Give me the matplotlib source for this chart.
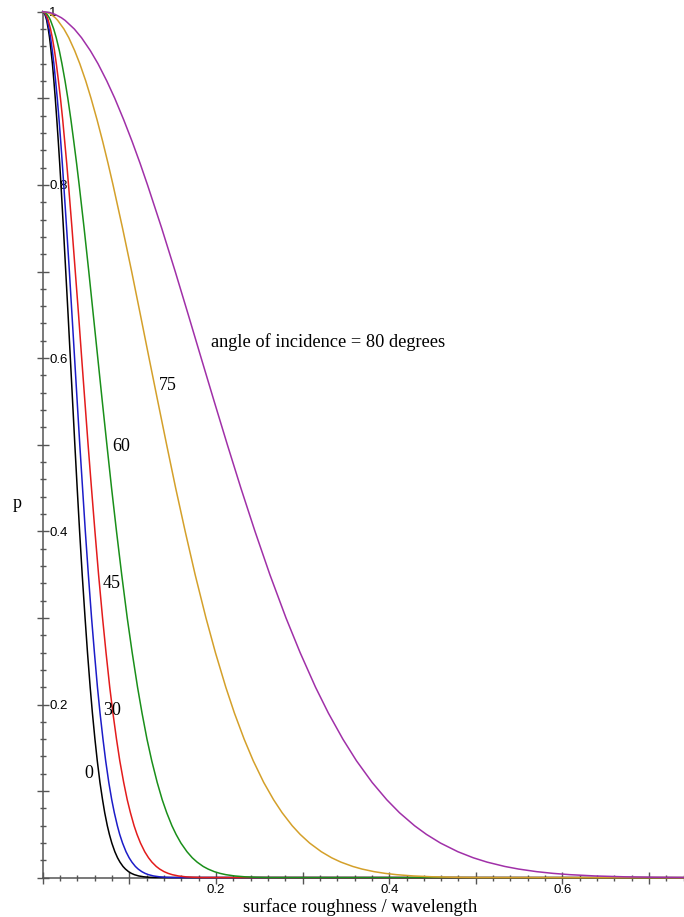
import matplotlib.pyplot as plt
from matplotlib.ticker import MultipleLocator, FuncFormatter

# p levels shared by all curves, x positions per angle
p_levels = [1.0, 0.999, 0.997, 0.993, 0.99, 0.98, 0.97, 0.955, 0.94, 0.92, 0.9, 0.875,
            0.85, 0.825, 0.8, 0.75, 0.7, 0.65, 0.6, 0.55, 0.5, 0.45, 0.4, 0.35, 0.3,
            0.26, 0.22, 0.19, 0.16, 0.135, 0.11, 0.09, 0.075, 0.06, 0.05, 0.04, 0.03,
            0.023, 0.018, 0.013, 0.01, 0.007, 0.005, 0.0035, 0.002, 0.001, 0.0005,
            0.0002, 0.0]

x_0 = [0, 0.0014, 0.0024, 0.0037, 0.0045, 0.0063, 0.0078, 0.0095, 0.0111, 0.0128, 0.0144,
       0.0162, 0.0179, 0.0195, 0.0210, 0.0238, 0.0265, 0.0292, 0.0318, 0.0344, 0.0370,
       0.0397, 0.0425, 0.0455, 0.0488, 0.0516, 0.0547, 0.0573, 0.0602, 0.0629, 0.0660,
       0.0690, 0.0715, 0.0745, 0.0769, 0.0797, 0.0832, 0.0863, 0.0891, 0.0926, 0.0954,
       0.0990, 0.1023, 0.1057, 0.1108, 0.1168, 0.1225, 0.1297, 0.76]
x_30 = [0, 0.0016, 0.0028, 0.0043, 0.0051, 0.0073, 0.0090, 0.0110, 0.0128, 0.0148, 0.0167,
        0.0188, 0.0207, 0.0225, 0.0242, 0.0275, 0.0307, 0.0337, 0.0367, 0.0397, 0.0427,
        0.0459, 0.0491, 0.0526, 0.0563, 0.0596, 0.0631, 0.0661, 0.0695, 0.0726, 0.0762,
        0.0796, 0.0826, 0.0861, 0.0888, 0.0921, 0.0961, 0.0997, 0.1029, 0.1069, 0.1101,
        0.1143, 0.1181, 0.1220, 0.1279, 0.1349, 0.1415, 0.1498, 0.76]
x_45 = [0, 0.0020, 0.0034, 0.0053, 0.0063, 0.0089, 0.0110, 0.0135, 0.0156, 0.0181, 0.0204,
        0.0230, 0.0253, 0.0276, 0.0297, 0.0337, 0.0375, 0.0413, 0.0449, 0.0486, 0.0523,
        0.0562, 0.0602, 0.0644, 0.0690, 0.0730, 0.0773, 0.0810, 0.0851, 0.0889, 0.0934,
        0.0975, 0.1012, 0.1054, 0.1088, 0.1128, 0.1177, 0.1221, 0.1260, 0.1310, 0.1349,
        0.1400, 0.1447, 0.1495, 0.1567, 0.1652, 0.1733, 0.1834, 0.76]
x_60 = [0, 0.0028, 0.0049, 0.0075, 0.0089, 0.0126, 0.0155, 0.0191, 0.0221, 0.0257, 0.0289,
        0.0325, 0.0358, 0.0390, 0.0420, 0.0477, 0.0531, 0.0583, 0.0635, 0.0687, 0.0740,
        0.0794, 0.0851, 0.0911, 0.0975, 0.1032, 0.1094, 0.1146, 0.1203, 0.1258, 0.1321,
        0.1379, 0.1431, 0.1491, 0.1539, 0.1595, 0.1665, 0.1726, 0.1782, 0.1852, 0.1908,
        0.1980, 0.2046, 0.2114, 0.2216, 0.2336, 0.2451, 0.2594, 0.76]
x_75 = [0, 0.0054, 0.0094, 0.0144, 0.0172, 0.0244, 0.0300, 0.0368, 0.0427, 0.0496, 0.0557,
        0.0627, 0.0692, 0.0753, 0.0811, 0.0921, 0.1026, 0.1127, 0.1227, 0.1328, 0.1430,
        0.1534, 0.1644, 0.1759, 0.1884, 0.1993, 0.2113, 0.2213, 0.2325, 0.2430, 0.2551,
        0.2665, 0.2764, 0.2880, 0.2972, 0.3081, 0.3216, 0.3335, 0.3442, 0.3579, 0.3685,
        0.3825, 0.3953, 0.4084, 0.4281, 0.4513, 0.4734, 0.5012, 0.76]
x_80 = [0, 0.0081, 0.0140, 0.0215, 0.0257, 0.0364, 0.0447, 0.0549, 0.0637, 0.0739, 0.0831,
        0.0935, 0.1032, 0.1123, 0.1209, 0.1373, 0.1529, 0.1680, 0.1829, 0.1979, 0.2131,
        0.2287, 0.2450, 0.2622, 0.2808, 0.2971, 0.3149, 0.3298, 0.3465, 0.3622, 0.3803,
        0.3972, 0.4119, 0.4293, 0.4430, 0.4592, 0.4793, 0.4971, 0.5130, 0.5334, 0.5493,
        0.5701, 0.5891, 0.6086, 0.6380, 0.6727, 0.7056, 0.7470, 0.76]

curves = [x_0, x_30, x_45, x_60, x_75, x_80]
colors = ['black', '#1c1cc8', '#e31c1c', '#1a8f1a', '#d4a02a', '#a030a8']

angle_labels = ['0', '30', '45', '60', '75']
label_pos = [(0.0526, 0.1206), (0.0795, 0.1925), (0.0795, 0.340), (0.090, 0.4977), (0.1438, 0.5678)]

fig = plt.figure(figsize=(6.84, 9.17), dpi=100)
ax = fig.add_axes([42.8 / 684, 39.3 / 917, (684 - 42.8) / 684, 866 / 917])

for xs, c in zip(curves, colors):
    ax.plot(xs, p_levels, color=c, lw=1.1, clip_on=False, zorder=3)

ax.set_xlim(0, 0.7404)
ax.set_ylim(0, 1)

for s in ['top', 'right']:
    ax.spines[s].set_visible(False)
for s in ['left', 'bottom']:
    ax.spines[s].set_color('#555555')
    ax.spines[s].set_linewidth(1.1)
    ax.spines[s].set_zorder(2)

ax.xaxis.set_major_locator(MultipleLocator(0.1))
ax.xaxis.set_minor_locator(MultipleLocator(0.02))
ax.yaxis.set_major_locator(MultipleLocator(0.1))
ax.yaxis.set_minor_locator(MultipleLocator(0.02))


def fmt(v, pos):
    k = round(v * 10)
    if k == 0 or k % 2 == 1:
        return ''
    if k == 10:
        return '1'
    return f'{v:.1f}'


ax.xaxis.set_major_formatter(FuncFormatter(fmt))
ax.yaxis.set_major_formatter(FuncFormatter(fmt))

ax.tick_params(which='major', direction='inout', length=8, width=1, color='#555555',
               labelsize=9.5)
ax.tick_params(which='minor', direction='inout', length=4.3, width=1, color='#555555')
ax.tick_params(axis='x', which='major', pad=0.5)
ax.tick_params(axis='y', which='major', pad=-8.6)
for lab in ax.get_xticklabels() + ax.get_yticklabels():
    lab.set_family('Liberation Sans')
for lab in ax.get_yticklabels():
    lab.set_horizontalalignment('left')

serif = 'Liberation Serif'
for txt, (lx, ly) in zip(angle_labels, label_pos):
    ax.text(lx, ly, txt, fontsize=13, family=serif, ha='center', va='center')
ax.text(0.1942, 0.619, 'angle of incidence = 80 degrees', fontsize=13.2, family=serif,
        ha='left', va='center')

fig.text(360 / 684, 1 - 906.7 / 917, 'surface roughness / wavelength', fontsize=13.4,
         family=serif, ha='center', va='center')
fig.text(17 / 684, 1 - 503 / 917, 'p', fontsize=13, family=serif, ha='center', va='center')

fig.savefig('out.png', dpi=100)
